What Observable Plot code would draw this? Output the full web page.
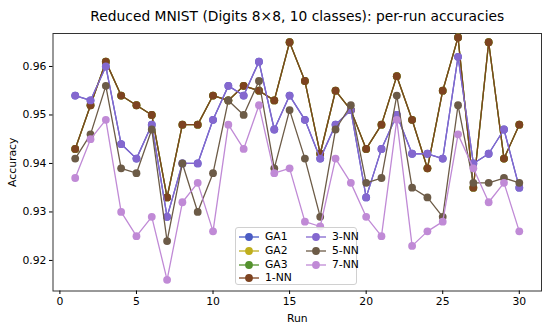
<!DOCTYPE html>
<html>
<head>
<meta charset="utf-8">
<script src="https://cdn.jsdelivr.net/npm/d3@7"></script>
<script src="https://cdn.jsdelivr.net/npm/@observablehq/plot@0.6"></script>
<style>
  html, body { margin: 0; padding: 0; background: #fff; }
  #wrap { position: relative; width: 550px; height: 330px; font-family: "DejaVu Sans", sans-serif; }
  #legend { position: absolute; left: 235px; top: 227px; width: 122px; height: 58px;
    background: rgba(255,255,255,0.85); border: 1px solid #d0d0d0; border-radius: 3px; box-sizing: border-box; }
  .item { position: absolute; font-size: 10.8px; line-height: 12px; color: #000; white-space: nowrap; }
  .item svg { vertical-align: middle; margin-right: 6px; }
</style>
</head>
<body>
<div id="wrap"></div>
<script>
const runs = [1,2,3,4,5,6,7,8,9,10,11,12,13,14,15,16,17,18,19,20,21,22,23,24,25,26,27,28,29,30];
const xTicks = [0,5,10,15,20,25,30];
const yTicks = [0.92,0.93,0.94,0.95,0.96];

const ga1 = [0.954,0.953,0.960,0.944,0.941,0.948,0.929,0.940,0.940,0.949,0.956,0.954,0.961,0.947,0.954,0.949,0.941,0.948,0.951,0.933,0.943,0.950,0.942,0.942,0.941,0.962,0.940,0.942,0.947,0.935];
const ga2 = [0.943,0.952,0.961,0.954,0.952,0.950,0.933,0.948,0.948,0.954,0.953,0.956,0.955,0.953,0.965,0.957,0.942,0.955,0.951,0.943,0.948,0.958,0.949,0.939,0.955,0.966,0.935,0.965,0.941,0.948];
const ga3 = [0.943,0.952,0.961,0.954,0.952,0.950,0.933,0.948,0.948,0.954,0.953,0.956,0.955,0.953,0.965,0.957,0.942,0.955,0.951,0.943,0.948,0.958,0.949,0.939,0.955,0.966,0.935,0.965,0.941,0.948];
const nn1 = [0.943,0.952,0.961,0.954,0.952,0.950,0.933,0.948,0.948,0.954,0.953,0.956,0.955,0.953,0.965,0.957,0.942,0.955,0.951,0.943,0.948,0.958,0.949,0.939,0.955,0.966,0.935,0.965,0.941,0.948];
const nn3 = [0.954,0.953,0.960,0.944,0.941,0.948,0.929,0.940,0.940,0.949,0.956,0.954,0.961,0.947,0.954,0.949,0.941,0.948,0.951,0.933,0.943,0.950,0.942,0.942,0.941,0.962,0.940,0.942,0.947,0.935];
const nn5 = [0.941,0.946,0.956,0.939,0.938,0.947,0.924,0.940,0.930,0.938,0.953,0.950,0.957,0.939,0.951,0.941,0.929,0.947,0.952,0.936,0.937,0.954,0.935,0.933,0.929,0.952,0.936,0.936,0.937,0.936];
const nn7 = [0.937,0.945,0.949,0.930,0.925,0.929,0.916,0.932,0.936,0.926,0.948,0.943,0.952,0.938,0.939,0.928,0.927,0.941,0.936,0.929,0.925,0.949,0.923,0.926,0.928,0.946,0.939,0.932,0.936,0.926];

const seriesNames = ["GA1","GA2","GA3","1-NN","3-NN","5-NN","7-NN"];
const seriesValues = [ga1, ga2, ga3, nn1, nn3, nn5, nn7];
const seriesColors = ["#4b5cc4","#bfae1c","#54912e","#7d4320","#8467cf","#6c5b47","#c08ad6"];

const titleText = "Reduced MNIST (Digits 8×8, 10 classes): per-run accuracies";
const font = "DejaVu Sans";

const marks = [
  Plot.frame({stroke: "#333", strokeWidth: 1}),
  Plot.axisX({ticks: xTicks, tickSize: 3.5, tickPadding: 3, fontSize: 10.8, label: null}),
  Plot.axisY({ticks: yTicks, tickSize: 3.5, tickPadding: 3, fontSize: 10.8, tickFormat: d3.format(".2f"), label: null})
];
seriesValues.forEach((vals, i) => {
  const data = runs.map((r, j) => ({run: r, acc: vals[j]}));
  marks.push(Plot.line(data, {x: "run", y: "acc", stroke: seriesColors[i], strokeWidth: 1.3}));
  marks.push(Plot.dot(data, {x: "run", y: "acc", fill: seriesColors[i], r: 3.9}));
});
marks.push(Plot.text([titleText], {frameAnchor: "top", lineAnchor: "middle", textAnchor: "middle", text: d => d, dy: -17, fontSize: 13.8, fill: "#000"}));
marks.push(Plot.text(["Run"], {frameAnchor: "bottom", lineAnchor: "middle", textAnchor: "middle", text: d => d, dy: 27.5, fontSize: 10.8, fill: "#000"}));
marks.push(Plot.text(["Accuracy"], {frameAnchor: "left", lineAnchor: "middle", textAnchor: "middle", text: d => d, dx: -40, rotate: -90, fontSize: 10.8, fill: "#000"}));

const chart = Plot.plot({
  width: 550, height: 330,
  marginLeft: 52.5, marginRight: 9, marginTop: 33, marginBottom: 39.5,
  style: {fontFamily: font, fontSize: "10.8px", color: "#000", background: "#fff"},
  x: {domain: [-0.45, 31.45], label: null},
  y: {domain: [0.9137, 0.9668], label: null},
  marks
});
const wrap = document.getElementById("wrap");
wrap.appendChild(chart);

// legend
const legend = document.createElement("div");
legend.id = "legend";
seriesNames.forEach((name, i) => {
  const col = i < 4 ? 0 : 1;
  const row = i < 4 ? i : i - 4;
  const item = document.createElement("div");
  item.className = "item";
  item.style.left = (col === 0 ? 3 : 70) + "px";
  item.style.top = (3 + row * 13.8) + "px";
  item.innerHTML = `<svg width="20" height="10"><line x1="0" y1="5" x2="20" y2="5" stroke="${seriesColors[i]}" stroke-width="1.3"/><circle cx="10" cy="5" r="3.9" fill="${seriesColors[i]}"/></svg>${name}`;
  legend.appendChild(item);
});
wrap.appendChild(legend);
</script>
</body>
</html>
